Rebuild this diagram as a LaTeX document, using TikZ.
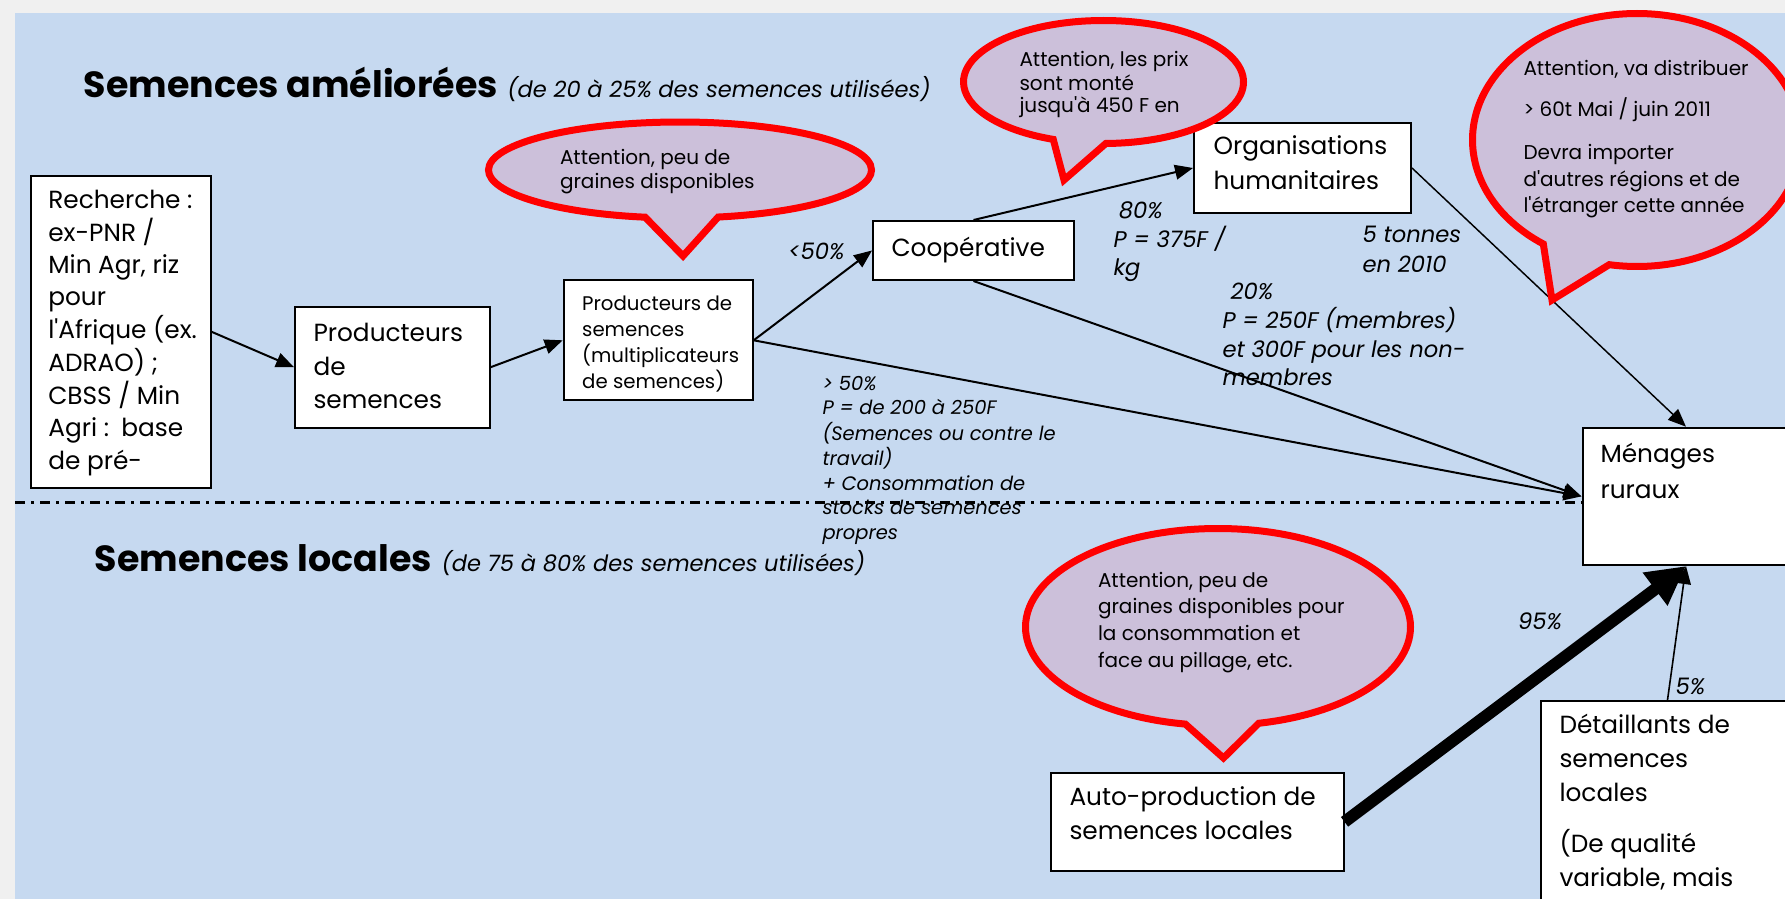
\documentclass[tikz,border=0pt]{standalone}
\usepackage{fontspec}
\setmainfont{Poppins}[Ligatures=TeXOff]
\usetikzlibrary{shapes.callouts,arrows.meta}

\definecolor{bgblue}{RGB}{198,217,240}
\definecolor{bggray}{RGB}{240,240,240}
\definecolor{lilac}{RGB}{204,192,218}

\newcommand{\fsz}[2]{\fontsize{#1}{#2}\selectfont}
\newcommand{\stk}[1]{\begin{tabular}[t]{@{}l@{}}#1\end{tabular}}

\tikzset{every picture/.style={line width=0.75pt}}

\begin{document}
\begin{tikzpicture}[x=0.75pt,y=0.75pt,yscale=-1,xscale=1,
  box/.style={draw=black, fill=white, line width=1.5pt, inner sep=0pt, anchor=north west},
  txt/.style={anchor=base west, inner sep=0pt, font=\fsz{18.6}{25}},
  bub/.style={anchor=base west, inner sep=0pt, font=\fsz{15}{18}},
  lbl/.style={anchor=base west, inner sep=0pt, font=\fsz{17}{21}\itshape},
  arr/.style={line width=1.5pt, -{Triangle[length=13.5pt,width=11pt]}},
  bigarr/.style={line width=9pt, -{Triangle[length=29pt,width=29pt]}},
  sepline/.style={line width=2.25pt, dash pattern=on 7.5pt off 4.5pt on 2.25pt off 4.5pt},
  warn/.style={ellipse callout, draw=red, fill=lilac, line width=5.25pt, inner sep=0pt, outer sep=0pt, callout pointer arc=22}
]
\useasboundingbox (0,0) rectangle (1785,899);
\clip (0,0) rectangle (1785,899);

%Shape: Background
\fill[bggray] (0,0) rectangle (1785,899);
\fill[bgblue] (15,13) rectangle (1785,899);

% Text Node
\node[txt, font=\fsz{27.3}{34}] (ttlA) at (83.4,97.7) {\textbf{Semences améliorées} {\fsz{16.9}{22}\itshape(de 20 à 25\% des semences utilisées)}};
% Text Node
\node[txt, font=\fsz{27.3}{34}] (ttlB) at (94.4,571.7) {\textbf{Semences locales} {\fsz{16.9}{22}\itshape(de 75 à 80\% des semences utilisées)}};

%Shape: Rectangle
\node[box, minimum width=135.2pt, minimum height=233.8pt] (rech) at (29.5,175) {};
%Shape: Rectangle
\node[box, minimum width=146pt, minimum height=90.75pt] (prod) at (294,305.7) {};
%Shape: Rectangle
\node[box, minimum width=141.75pt, minimum height=90pt] (mult) at (562.7,279.3) {};
%Shape: Rectangle
\node[box, minimum width=150.75pt, minimum height=44.25pt] (coop) at (872,220) {};
%Shape: Rectangle
\node[box, minimum width=162.75pt, minimum height=67.5pt] (org) at (1193,122) {};
%Shape: Rectangle
\node[box, minimum width=155.25pt, minimum height=103pt] (men) at (1581.5,426.7) {};
%Shape: Rectangle
\node[box, minimum width=219.4pt, minimum height=73.7pt] (auto) at (1050,771.7) {};
%Shape: Rectangle
\node[box, minimum width=189.75pt, minimum height=165pt] (det) at (1540,700) {};

% Text Node
\node[txt, font=\fsz{18.6}{24.2}] (rechT) at (47.8,208.3) {\stk{Recherche :\\ex-PNR /\\Min Agr, riz\\pour\\l'Afrique (ex.\\ADRAO) ;\\CBSS / Min\\Agri :\enspace base\\de pré-}};
% Text Node
\node[txt] (prodT) at (313,341.7) {\stk{Producteurs\\de\\semences}};
% Text Node
\node[txt, font=\fsz{14.8}{19.6}] (multT) at (581.7,310) {\stk{Producteurs de\\semences\\(multiplicateurs\\de semences)}};
% Text Node
\node[txt] (coopT) at (891,256) {Coopérative};
% Text Node
\node[txt, font=\fsz{18.6}{26.25}] (orgT) at (1213,154) {\stk{Organisations\\humanitaires}};
% Text Node
\node[txt, font=\fsz{18.6}{27}] (menT) at (1600,462.3) {\stk{Ménages\\ruraux}};
% Text Node
\node[txt, font=\fsz{18.6}{25.5}] (autoT) at (1069,805) {\stk{Auto-production de\\semences locales}};
% Text Node
\node[txt, font=\fsz{18.6}{25.5}] (detT) at (1559,733.5) {\stk{Détaillants de\\semences\\locales\\[13pt](De qualité\\variable, mais}};

% Connectors
\draw[arr] (rech.east) -- (prod.west);
\draw[arr] (prod.east) -- (mult.west);
\draw[arr] (mult.east) -- (coop.west);
\draw[arr] (coop.north) -- (org.west);
\draw[arr] (coop.south) -- (men.west);
\draw[arr] (mult.east) -- (men.west);
\draw[arr, line width=1.1pt] (org.east) -- (men.north);
\draw[bigarr] (auto.east) -- (men.south);
\draw[arr, line width=1.2pt] (det.north) -- (men.south);

%Straight Lines
\coordinate (sepL) at (15,502.7);
\draw[sepline] (sepL) -- (sepL -| men.west);

%Shape: Callout
\node[warn, minimum width=287.25pt, minimum height=72pt, callout absolute pointer={(683,256)}] (warnA) at (680,170) {};
%Shape: Callout
\node[warn, minimum width=210pt, minimum height=92.25pt, callout absolute pointer={(1064,180)}] (warnB) at (1103.5,82) {};
%Shape: Callout
\node[warn, minimum width=246.75pt, minimum height=189.75pt, callout absolute pointer={(1552,300)}, callout pointer arc=25] (warnC) at (1637,140) {};
%Shape: Callout
\node[warn, minimum width=288.75pt, minimum height=147.75pt, callout absolute pointer={(1223.5,758)}] (warnD) at (1218,627) {};

% Text Node
\node[bub] (warnAT) at (559.5,164.5) {\stk{Attention, peu de\\graines disponibles}};
% Text Node
\node[bub, font=\fsz{15}{17.25}] (warnBT) at (1019,67) {\stk{Attention, les prix\\sont monté\\jusqu'à 450 F en}};
% Text Node
\node[bub, font=\fsz{15}{20.25}] (warnCT) at (1523,75) {\stk{Attention, va distribuer\\[11.25pt]> 60t Mai / juin 2011\\[11.25pt]Devra importer\\d'autres régions et de\\l'étranger cette année}};
% Text Node
\node[bub, font=\fsz{15}{20}] (warnDT) at (1097.5,587) {\stk{Attention, peu de\\graines disponibles pour\\la consommation et\\face au pillage, etc.}};

% Text Node
\node[lbl] (lblLess) at (787.5,259) {<50\%};
% Text Node
\node[lbl] (lblOrg) at (1113,218) {\stk{\hspace{4pt}80\%\\P = 375F /\\kg}};
% Text Node
\node[lbl, font=\fsz{17}{22.5}\itshape] (lblTon) at (1362,242) {\stk{5 tonnes\\en 2010}};
% Text Node
\node[lbl, font=\fsz{17}{21.4}\itshape] (lblMem) at (1222,299) {\stk{\hspace{6pt}20\%\\P = 250F (membres)\\et 300F pour les non-\\membres}};
% Text Node
\node[lbl, font=\fsz{14.6}{18.4}\itshape] (lblSelf) at (822,390) {\stk{> 50\%\\P = de 200 à 250F\\(Semences ou contre le\\travail)\\+ Consommation de\\stocks de semences\\propres}};
% Text Node
\node[lbl] (lblLoc) at (1517.5,629) {95\%};
% Text Node
\node[lbl] (lblDet) at (1675,694) {5\%};

\end{tikzpicture}
\end{document}
